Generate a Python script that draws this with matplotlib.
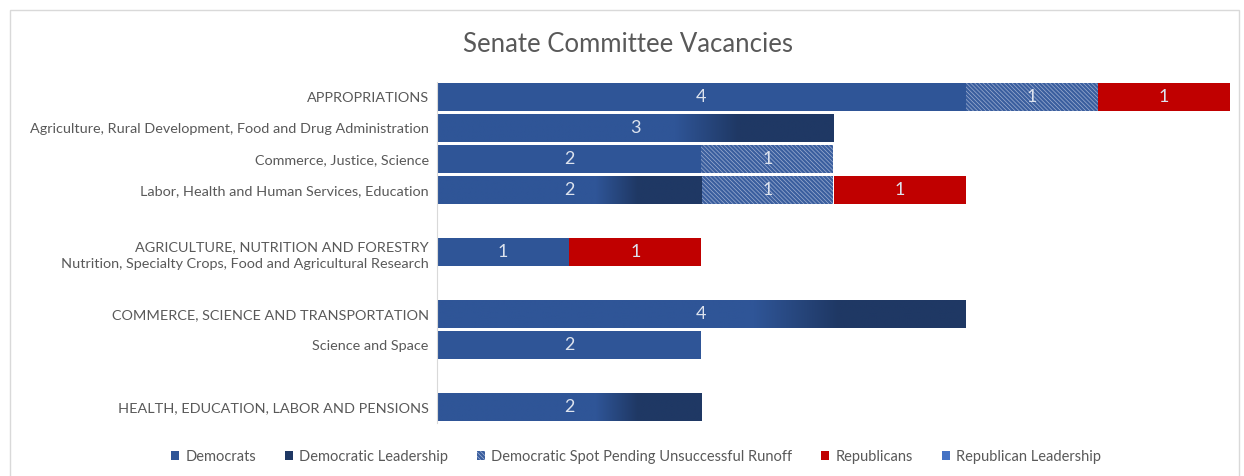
import numpy as np
import matplotlib
matplotlib.use("Agg")
import matplotlib.pyplot as plt
from matplotlib.colors import LinearSegmentedColormap
from matplotlib.patches import Rectangle, Patch

plt.rcParams['font.family'] = ['Lato', 'DejaVu Sans']
plt.rcParams['hatch.linewidth'] = 0.5

categories = [
    "APPROPRIATIONS",
    "Agriculture, Rural Development, Food and Drug Administration",
    "Commerce, Justice, Science",
    "Labor, Health and Human Services, Education",
    "",
    "AGRICULTURE, NUTRITION AND FORESTRY\nNutrition, Specialty Crops, Food and Agricultural Research",
    "",
    "COMMERCE, SCIENCE AND TRANSPORTATION",
    "Science and Space",
    "",
    "HEALTH, EDUCATION, LABOR AND PENSIONS",
]
democrats      = [4, 0, 2, 0, 0, 1, 0, 0, 2, 0, 0]
dem_leadership = [0, 3, 0, 2, 0, 0, 0, 4, 0, 0, 2]
dem_pending    = [1, 0, 1, 1, 0, 0, 0, 0, 0, 0, 0]
republicans    = [1, 0, 0, 1, 0, 1, 0, 0, 0, 0, 0]
rep_leadership = [0, 0, 0, 0, 0, 0, 0, 0, 0, 0, 0]
series_names = ["Democrats", "Democratic Leadership",
                "Democratic Spot Pending Unsuccessful Runoff",
                "Republicans", "Republican Leadership"]

C_DEM = '#2F5597'
C_LEAD = '#1F3864'
C_PEND = '#3A5E9E'
C_REP = '#C00000'
C_RLEAD = '#4472C4'
HATCH_C = '#9fb0d2'
TXT = '#595959'
LBL = '#dde3ee'

W, H = 1244, 476
fig = plt.figure(figsize=(W / 100, H / 100), dpi=100)
fig.patches.append(Rectangle((10 / W, -0.02), (1239 - 10) / W, 1 - 10 / H + 0.02,
                             transform=fig.transFigure, fill=False,
                             edgecolor='#d9d9d9', linewidth=1.0))

left, right = 437 / W, 1230 / W
top, bottom = 1 - 81.5 / H, 1 - 422.5 / H
ax = fig.add_axes([left, bottom, right - left, top - bottom])

y = np.arange(len(categories))
h = 0.93
series = [democrats, dem_leadership, dem_pending, republicans, rep_leadership]
colors = [C_DEM, C_LEAD, C_PEND, C_REP, C_RLEAD]
cum = np.zeros(len(categories))
grad_cmap = LinearSegmentedColormap.from_list(
    'g', [(0, C_DEM), (0.6, C_DEM), (0.76, C_LEAD), (1, C_LEAD)])
grad = np.linspace(0, 1, 256).reshape(1, -1)

for si, (vals, col) in enumerate(zip(series, colors)):
    vals = np.array(vals, dtype=float)
    kw = {}
    if si == 2:
        kw = dict(hatch='\\\\\\\\\\\\\\\\', edgecolor=HATCH_C, linewidth=0)
    bars = ax.barh(y, vals, left=cum, height=h, color=col, zorder=2, **kw)
    for b, v, c0, yi in zip(bars, vals, cum, y):
        if v <= 0:
            continue
        if si == 1:
            b.set_facecolor(C_DEM)
            im = ax.imshow(grad, cmap=grad_cmap, aspect='auto',
                           extent=(c0, c0 + v, yi - h / 2, yi + h / 2),
                           zorder=2.5, interpolation='bilinear')
            im.set_clip_path(b)
        ax.text(c0 + v / 2, yi, f"{int(v)}", ha='center', va='center',
                color=LBL, fontsize=13, zorder=4)
    cum += vals

ax.set_xlim(0, 6)
ax.set_ylim(len(categories) - 0.5, -0.5)
ax.set_yticks(y)
ax.set_yticklabels(categories, fontsize=10.4, color=TXT)
for t in ax.get_yticklabels():
    if "\n" in t.get_text():
        t.set_linespacing(1.45)
ax.tick_params(axis='y', length=0, pad=6)
ax.set_xticks([])
for s in ['top', 'right', 'bottom']:
    ax.spines[s].set_visible(False)
ax.spines['left'].set_color('#d9d9d9')
ax.spines['left'].set_linewidth(0.8)

fig.text(628 / W, 1 - 45 / H, "Senate Committee Vacancies", ha='center', va='center',
         fontsize=18.5, color=TXT)

handles = [Patch(facecolor=C_DEM), Patch(facecolor=C_LEAD),
           Patch(facecolor=C_PEND, hatch='\\\\\\\\\\\\\\\\', edgecolor=HATCH_C, linewidth=0),
           Patch(facecolor=C_REP), Patch(facecolor=C_RLEAD)]
leg = fig.legend(handles, series_names, loc='center', ncol=5,
                 bbox_to_anchor=(636 / W, 1 - 457 / H), frameon=False,
                 fontsize=10.5, handlelength=0.55, handleheight=0.55,
                 handletextpad=0.4, columnspacing=2.0, labelcolor=TXT)

fig.savefig("out.png", dpi=100)
